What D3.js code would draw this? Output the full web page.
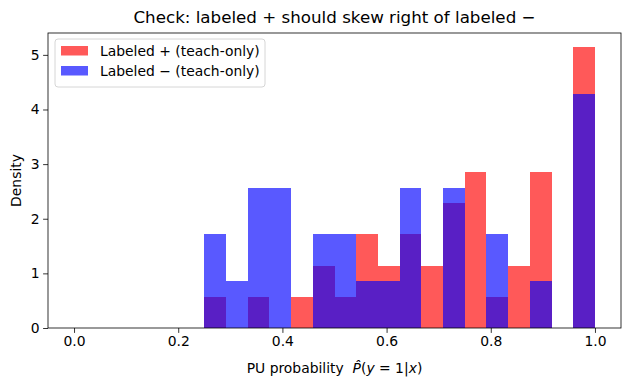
<!DOCTYPE html>
<html><head><meta charset="utf-8">
<script src="https://cdn.jsdelivr.net/npm/d3@7"></script>
<style>body{margin:0;background:#fff}svg{display:block;font-family:"DejaVu Sans",sans-serif}</style>
</head><body><div id="chart"></div>
<script>
const binEdges = [0,1/24,2/24,3/24,4/24,5/24,6/24,7/24,8/24,9/24,10/24,11/24,12/24,13/24,14/24,15/24,16/24,17/24,18/24,19/24,20/24,21/24,22/24,23/24,1];
const posDensity = [0,0,0,0,0,0,0.571,0,0.571,0,0.571,1.143,0.571,1.714,1.143,1.714,1.143,2.286,2.857,0.571,1.143,2.857,0,5.143];
const negDensity = [0,0,0,0,0,0,1.714,0.857,2.571,2.571,0,1.714,1.714,0.857,0.857,2.571,0,2.571,0,1.714,0,0.857,0,4.286];
const xTicks = [0,0.2,0.4,0.6,0.8,1.0];
const yTicks = [0,1,2,3,4,5];
const seriesNames = ["Labeled + (teach-only)","Labeled \u2212 (teach-only)"];
const seriesColors = ["red","blue"];

const W=630,H=390, L=48,R=621,T=33,B=328;
const svg=d3.select("#chart").append("svg").attr("width",W).attr("height",H);
const x=d3.scaleLinear().domain([-0.05,1.05]).range([L,R]);
const ymax=5.143*1.05;
const y=d3.scaleLinear().domain([0,ymax]).range([B,T]);

[posDensity,negDensity].forEach((vals,si)=>{
  svg.append("g").attr("shape-rendering","crispEdges").selectAll("rect").data(vals.map((v,i)=>({x0:binEdges[i],x1:binEdges[i+1],v})).filter(d=>d.v>0))
    .join("rect")
    .attr("x",d=>x(d.x0)).attr("width",d=>x(d.x1)-x(d.x0))
    .attr("y",d=>y(d.v)).attr("height",d=>y(0)-y(d.v))
    .attr("fill",seriesColors[si]).attr("fill-opacity",0.65);
});

const xa=svg.append("g").attr("transform",`translate(0,${B})`)
  .call(d3.axisBottom(x).tickValues(xTicks).tickFormat(d3.format(".1f")).tickSizeOuter(0).tickSize(4.9).tickPadding(3.5));
const ya=svg.append("g").attr("transform",`translate(${L},0)`)
  .call(d3.axisLeft(y).tickValues(yTicks).tickFormat(d3.format("d")).tickSizeOuter(0).tickSize(4.9).tickPadding(3.5));
[xa,ya].forEach(a=>{a.selectAll("text").attr("font-size",13.9).attr("fill","#000").attr("font-family","DejaVu Sans");
  a.selectAll("line").attr("stroke","#000").attr("stroke-width",0.8);a.select(".domain").remove();});
svg.append("rect").attr("x",L).attr("y",T).attr("width",R-L).attr("height",B-T)
  .attr("fill","none").attr("stroke","#000").attr("stroke-width",0.8);

svg.append("text").attr("x",(L+R)/2).attr("y",23).attr("text-anchor","middle")
  .attr("font-size",16.7).text("Check: labeled + should skew right of labeled \u2212");
svg.append("text").attr("transform",`translate(21,${(T+B)/2}) rotate(-90)`).attr("text-anchor","middle")
  .attr("font-size",13.9).text("Density");
const xl=svg.append("text").attr("x",(L+R)/2).attr("y",373).attr("text-anchor","middle").attr("font-size",13.9);
xl.append("tspan").text("PU probability\u00a0\u00a0");
xl.append("tspan").attr("font-style","italic").text("P\u0302");
xl.append("tspan").text("(");
xl.append("tspan").attr("font-style","italic").text("y");
xl.append("tspan").text(" = 1|");
xl.append("tspan").attr("font-style","italic").text("x");
xl.append("tspan").text(")");

const lg=svg.append("g");
lg.append("rect").attr("x",55).attr("y",39).attr("width",210).attr("height",48).attr("rx",3)
  .attr("fill","#fff").attr("fill-opacity",0.8).attr("stroke","#ccc").attr("stroke-width",0.8);
seriesNames.forEach((n,i)=>{
  lg.append("rect").attr("x",61).attr("y",46+i*20).attr("width",27).attr("height",9.5)
    .attr("fill",seriesColors[i]).attr("fill-opacity",0.65);
  lg.append("text").attr("x",100).attr("y",55.5+i*20).attr("font-size",13.9).text(n);
});
</script></body></html>
